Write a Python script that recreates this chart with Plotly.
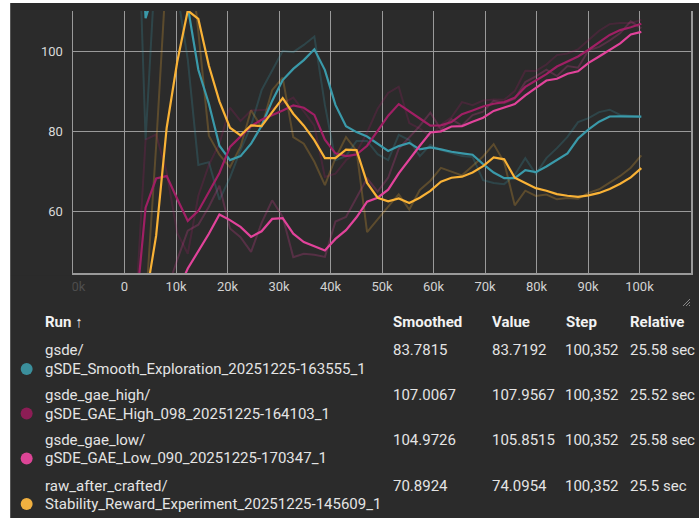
import plotly.graph_objects as go

# ---------------- data ----------------
steps = [2048, 4096, 6144, 8192, 10240, 12288, 14336, 16384, 18432, 20480,
         22528, 24576, 26624, 28672, 30720, 32768, 34816, 36864, 38912, 40960,
         43008, 45056, 47104, 49152, 51200, 53248, 55296, 57344, 59392, 61440,
         63488, 65536, 67584, 69632, 71680, 73728, 75776, 77824, 79872, 81920,
         83968, 86016, 88064, 90112, 92160, 94208, 96256, 98304, 100352]

gsde_raw = [159, 78, 125, 135, 115, 98, 71.7, 72.4, 63, 68.5,
            75.4, 81.5, 90.4, 95.4, 100.2, 99.9, 101.7, 103.8, 86.7, 72.9,
            73.9, 77.7, 77.7, 74.4, 72.9, 79.2, 77.9, 73.9, 76.7, 75.4,
            74.7, 73.9, 73.7, 67.9, 67.2, 66.9, 69.2, 73.4, 69.4, 73.4,
            75.9, 78.7, 82.4, 83.4, 84.9, 85.5, 84.2, 83.9, 83.7192]
gsde_smooth = [159, 108.4, 116.8, 125.2, 120.8, 111.3, 95.5, 87, 76.5, 72.9,
               73.9, 77, 81.5, 87.7, 92.9, 95.7, 97.9, 100.6, 95.4, 86.7,
               81.4, 79.9, 78.8, 76.9, 75.2, 76.4, 77.2, 75.6, 76.1, 75.6,
               75.0, 74.6, 74.25, 71.9, 69.8, 68.4, 68.4, 70.4, 69.9, 71.3,
               72.9, 74.6, 78.3, 80.6, 82.5, 83.8, 83.85, 83.85, 83.7815]

high_raw = [33, 78, 79.3, 69.8, 54.7, 49.5, 64, 71.7, 77, 86,
            82.7, 85.3, 85.4, 85.75, 87.1, 88.55, 85.1, 81.5, 68.7, 69.5,
            72.85, 74.9, 79.8, 85.75, 89.7, 91.25, 82.15, 80.75, 78.8, 81.75,
            83.6, 87.4, 86.65, 87.8, 88.05, 88.0, 90.15, 95.25, 95.2, 96.8,
            99.15, 99.55, 100.6, 103.05, 105.25, 106.9, 107.2, 107.15, 107.9567]
high_smooth = [33, 61, 68.3, 68.9, 63.2, 57.7, 60.2, 64.8, 69.7, 76.2,
               78.8, 81.4, 83.0, 84.1, 85.3, 86.6, 86.0, 84.2, 78.0, 74.6,
               73.9, 74.3, 76.5, 80.2, 84.0, 86.9, 85.0, 83.3, 81.5, 81.6,
               82.4, 84.4, 85.3, 86.3, 87.0, 87.4, 88.5, 91.2, 92.8, 94.4,
               96.3, 97.6, 98.8, 100.5, 102.4, 104.2, 105.4, 106.1, 107.0067]

low_raw = [20, 25, 33, 40, 48, 55.25, 56.75, 61.25, 66.5, 55.8,
           53.65, 49.95, 57.2, 62.85, 58.7, 48.65, 49.5, 49.25, 48.7, 57.55,
           58.7, 63.4, 68.35, 65, 68.5, 75.75, 78.6, 81.45, 84.75, 80.55,
           83.1, 81.55, 84.15, 85, 87.75, 87.2, 88.25, 92.4, 93.85, 95.5,
           93.9, 96.4, 96, 100.35, 101.2, 102.8, 104.65, 107.6, 105.8515]
low_smooth = [20, 23, 28, 33.6, 39.9, 45.8, 50, 54.5, 59.3, 57.9,
              56.2, 53.7, 55.1, 58.2, 58.4, 54.5, 52.4, 51.3, 50.3, 53.2,
              55.4, 58.6, 62.5, 63.5, 65.5, 69.6, 73.2, 76.5, 79.8, 80.1,
              81.3, 81.4, 82.5, 83.5, 85.2, 86.0, 86.9, 89.1, 91.0, 92.8,
              93.25, 94.5, 95.1, 97.2, 98.8, 100.4, 102.1, 104.3, 104.9726]

craft_raw = [40, 36, 76.5, 121.5, 122, 129.5, 105, 79, 74.25, 71.1,
             76.25, 85.35, 81.1, 90.4, 93.5, 78.65, 77, 72.5, 66.65, 73.4,
             78.65, 75.25, 54.9, 57.95, 61.25, 64.35, 60.55, 65.45, 67.75, 70.95,
             70, 69.1, 71.4, 73.8, 76.9, 72.35, 61.6, 65.25, 63.95, 64.3,
             63.1, 63.4, 63.25, 64.7, 65.6, 67.2, 68.95, 71, 74.0954]
craft_smooth = [40, 38, 54, 81, 97.5, 110.3, 108.2, 96.5, 87.6, 81,
                79.1, 81.6, 81.4, 85, 88.4, 84.5, 81.5, 77.9, 73.4, 73.4,
                75.5, 75.4, 67.2, 63.5, 62.6, 63.3, 62.2, 63.5, 65.2, 67.5,
                68.5, 68.75, 69.8, 71.4, 73.6, 73.1, 68.5, 67.2, 65.9, 65.25,
                64.4, 64.0, 63.7, 64.1, 64.7, 65.7, 67.0, 68.6, 70.8924]

x_tick_vals = [-10000, 0, 10000, 20000, 30000, 40000, 50000, 60000, 70000, 80000, 90000, 100000, 110000]
x_tick_text = ["-10k", "0", "10k", "20k", "30k", "40k", "50k", "60k", "70k", "80k", "90k", "100k", "110k"]
y_tick_vals = [60, 80, 100]

run_dirs = ["gsde/", "gsde_gae_high/", "gsde_gae_low/", "raw_after_crafted/"]
run_names = ["gSDE_Smooth_Exploration_20251225-163555_1",
             "gSDE_GAE_High_098_20251225-164103_1",
             "gSDE_GAE_Low_090_20251225-170347_1",
             "Stability_Reward_Experiment_20251225-145609_1"]
col_smoothed = ["83.7815", "107.0067", "104.9726", "70.8924"]
col_value = ["83.7192", "107.9567", "105.8515", "74.0954"]
col_step = ["100,352", "100,352", "100,352", "100,352"]
col_relative = ["25.58 sec", "25.52 sec", "25.58 sec", "25.5 sec"]
headers = ["Run \u2191", "Smoothed", "Value", "Step", "Relative"]

run_colors = ["#3a9aaa", "#a01f64", "#e2439b", "#f9b236"]
dot_colors = ["#3b8f9c", "#8c1d55", "#dc4596", "#f1b040"]

# ---------------- geometry ----------------
W, H = 699, 518
L, R, T, B = 73, 693, 11, 273
BG = "#2b2b2b"
GRID = "#9a9a9a"
TXT = "#e4e4e4"
FONT = "Roboto, Noto Sans, sans-serif"


def fx(p):
    return (p - L) / (R - L)


def fy(p):
    return (B - p) / (B - T)


fig = go.Figure()
raws = [gsde_raw, high_raw, low_raw, craft_raw]
smooths = [gsde_smooth, high_smooth, low_smooth, craft_smooth]
for vals, c in zip(raws, run_colors):
    fig.add_trace(go.Scatter(x=steps, y=vals, mode="lines",
                             line=dict(color=c, width=2), opacity=0.24,
                             hoverinfo="skip"))
for vals, c in zip(smooths, run_colors):
    fig.add_trace(go.Scatter(x=steps, y=vals, mode="lines",
                             line=dict(color=c, width=2.2),
                             hoverinfo="skip"))

dim = "#4e4e4e"
ticktext = []
for i, t in enumerate(x_tick_text):
    if i == 0 or i == len(x_tick_text) - 1:
        ticktext.append("<span style='color:%s'>%s</span>" % (dim, t))
    else:
        ticktext.append(t)

fig.update_layout(
    width=W, height=H,
    margin=dict(l=L, r=W - R, t=T, b=H - B, pad=0),
    paper_bgcolor=BG, plot_bgcolor=BG,
    showlegend=False,
    font=dict(family=FONT, color=TXT, size=13),
    hovermode=False,
    xaxis=dict(range=[-10000, 110000], tickvals=x_tick_vals, ticktext=ticktext,
               showgrid=True, gridcolor=GRID, gridwidth=1, zeroline=False,
               showline=True, linecolor=GRID, linewidth=1.5, ticks="",
               tickfont=dict(family=FONT, size=13, color="#d2d2d2"),
               ticklabelstandoff=1, fixedrange=True),
    yaxis=dict(range=[44.68, 110.18], tickvals=y_tick_vals,
               showgrid=True, gridcolor=GRID, gridwidth=1, zeroline=False,
               showline=True, mirror=True, linecolor=GRID, linewidth=1.5,
               ticks="", tickfont=dict(family=FONT, size=13, color="#d9d9d9"),
               ticklabelstandoff=6, fixedrange=True),
)

shapes = []
# clip the edge tick labels
shapes.append(dict(type="rect", xref="paper", yref="paper", layer="above",
                   x0=fx(8), x1=fx(72.3), y0=fy(297), y1=fy(275.5),
                   fillcolor=BG, line=dict(width=0)))
shapes.append(dict(type="rect", xref="paper", yref="paper", layer="above",
                   x0=fx(691), x1=fx(702), y0=fy(297), y1=fy(275.5),
                   fillcolor=BG, line=dict(width=0)))
# white page margins (top and left)
shapes.append(dict(type="rect", xref="paper", yref="paper", layer="above",
                   x0=fx(-2), x1=fx(702), y0=fy(3), y1=fy(-2),
                   fillcolor="#ffffff", line=dict(width=0)))
shapes.append(dict(type="rect", xref="paper", yref="paper", layer="above",
                   x0=fx(-2), x1=fx(10), y0=fy(520), y1=fy(-2),
                   fillcolor="#ffffff", line=dict(width=0)))
# resize handle
for a, b2 in [((692, 299), (685, 306)), ((692, 302), (688, 306)), ((692, 305), (691, 306))]:
    shapes.append(dict(type="line", xref="paper", yref="paper", layer="above",
                       x0=fx(a[0]), y0=fy(a[1]), x1=fx(b2[0]), y1=fy(b2[1]),
                       line=dict(color="#8a8a8a", width=1)))

# legend dots
dot_y = [369, 413.5, 458.5, 504]
for yy, c in zip(dot_y, dot_colors):
    shapes.append(dict(type="circle", xref="paper", yref="paper", layer="above",
                       x0=fx(20.5), x1=fx(32.5), y0=fy(yy + 6), y1=fy(yy - 6),
                       fillcolor=c, line=dict(width=0)))
fig.update_layout(shapes=shapes)

ann = []


def text(x, y, s, bold=False, color=TXT, size=15):
    ann.append(dict(xref="paper", yref="paper", x=fx(x), y=fy(y), text=("<b>%s</b>" % s) if bold else s,
                    showarrow=False, xanchor="left", yanchor="middle",
                    font=dict(family=FONT, size=size, color=color)))


head_x = [42.5, 392, 491.5, 565.5, 630]
for hx, h in zip(head_x, headers):
    text(hx, 321.5, h, bold=True, color="#f2f2f2")

line1_y = [350, 395, 440.5, 486]
line2_y = [368.5, 413.5, 458.5, 504]
for i in range(4):
    text(42.5, line1_y[i], run_dirs[i])
    text(42.5, line2_y[i], run_names[i])
    text(392, line1_y[i], col_smoothed[i])
    text(491.5, line1_y[i], col_value[i])
    text(565, line1_y[i], col_step[i])
    text(630, line1_y[i], col_relative[i])

fig.update_layout(annotations=ann)

fig.write_html("out.html", config={"displayModeBar": False, "staticPlot": True},
               post_script="document.body.style.margin='0';document.body.style.overflow='hidden';")
